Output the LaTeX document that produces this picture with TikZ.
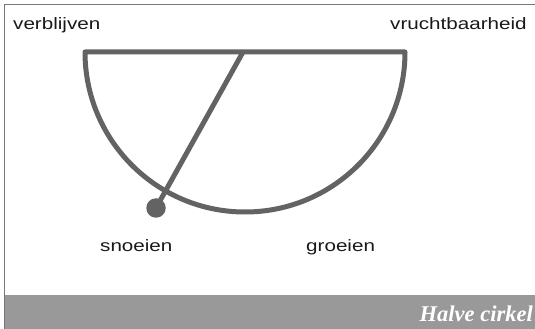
\documentclass[tikz,border=0pt]{standalone}
\usepackage{fontspec}
\newfontfamily\labelfont[FakeStretch=1.25]{Liberation Sans}
\newfontfamily\captionfont{Liberation Serif}
\definecolor{shape}{HTML}{636363}
\definecolor{band}{HTML}{999999}
\definecolor{frame}{HTML}{777777}
\begin{document}
\begin{tikzpicture}[x=1pt,y=1pt,
  lbl/.style={font=\labelfont\fontsize{16.5}{18}\selectfont, text=black!90, inner sep=0pt},
  shapeline/.style={draw=shape, line width=5pt, line join=round}]
\useasboundingbox (0,0) rectangle (535,329);
% caption band
\fill[band] (5,0) rectangle (535,34);
% frame (left and top)
\draw[frame, line width=1pt] (4.5,0) -- (4.5,324.5) -- (535,324.5);
\node[anchor=base east, inner sep=0pt, text=white, font=\captionfont\bfseries\itshape\fontsize{22.5}{24}\selectfont] (cap) at (533,7.5) {Halve cirkel};
% semicircle
\coordinate (L) at (85,277);
\coordinate (R) at (405,277);
\coordinate (T) at (243,277);
\draw[shapeline] (R) -- (L) arc[start angle=180, end angle=360, radius=160] -- cycle;
% dot and radius line
\node[circle, fill=shape, minimum size=19.5pt, inner sep=0pt] (dot) at (156,121) {};
\draw[shapeline] (T) -- (dot.center);
% labels
\node[lbl, anchor=base west] (verb) at (13,299) {verblijven};
\node[lbl, anchor=base west] (vrucht) at (390,299) {vruchtbaarheid};
\node[lbl, anchor=base west] (snoei) at (100,77) {snoeien};
\node[lbl, anchor=base west] (groei) at (306,77) {groeien};
\end{tikzpicture}
\end{document}
